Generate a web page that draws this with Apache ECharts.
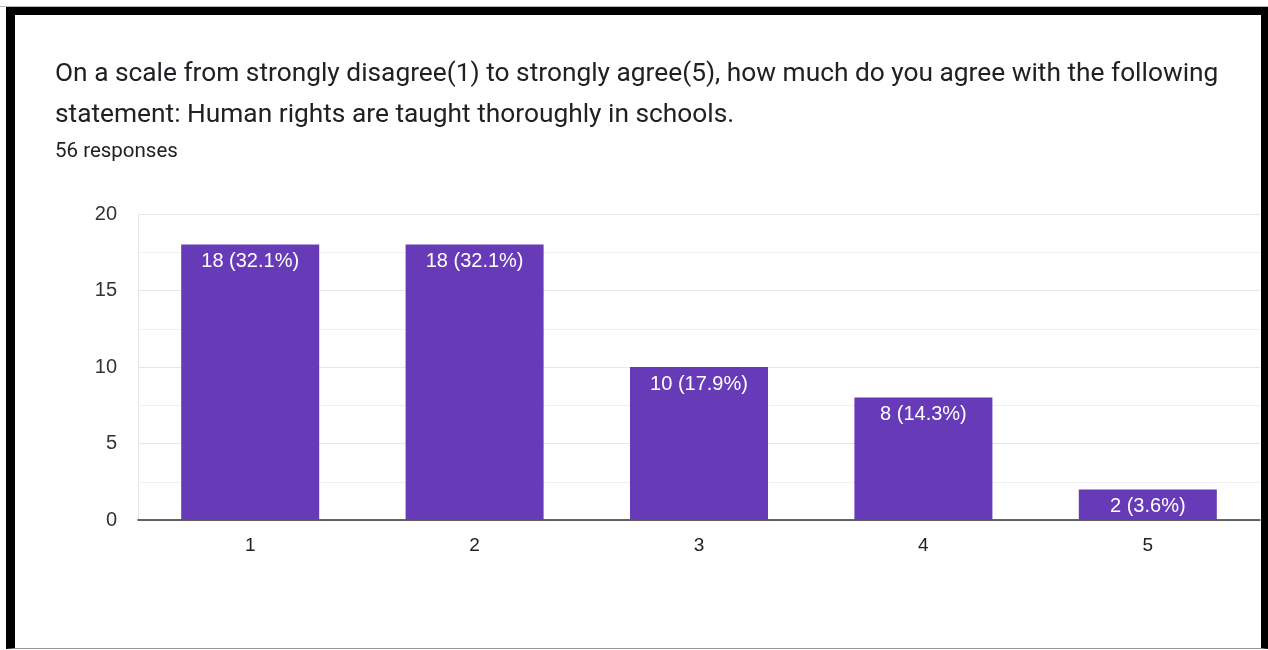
<!DOCTYPE html>
<html>
<head>
<meta charset="utf-8">
<script src="https://cdn.jsdelivr.net/npm/echarts@6/dist/echarts.min.js"></script>
<style>
html,body{margin:0;padding:0;background:#fff;}
#chart{position:absolute;left:0;top:0;width:1268px;height:650px;}
#frame{position:absolute;left:6px;top:7px;width:1262px;height:642px;box-sizing:border-box;
border-left:9px solid #000;border-top:8px solid #000;border-right:7px solid #000;border-bottom:1px solid #999;pointer-events:none;}
#topline{position:absolute;left:0;top:6px;width:1268px;height:1px;background:#bbb;}
</style>
</head>
<body>
<div id="chart"></div>
<div id="topline"></div>
<div id="frame"></div>
<script>
const titleLines = [
  "On a scale from strongly disagree(1) to strongly agree(5), how much do you agree with the following",
  "statement: Human rights are taught thoroughly in schools."
];
const subtitle = "56 responses";
const categories = ["1", "2", "3", "4", "5"];
const counts = [18, 18, 10, 8, 2];
const percents = ["32.1%", "32.1%", "17.9%", "14.3%", "3.6%"];
const yTicks = [0, 5, 10, 15, 20];

const chart = echarts.init(document.getElementById('chart'), null, {renderer: 'canvas'});
const font = 'Roboto, "Noto Sans", Arial, sans-serif';
const axisFont = '"Liberation Sans", Arial, Helvetica, sans-serif';
chart.setOption({
  animation: false,
  title: [
    {
      text: titleLines.join('\n'),
      left: 50, top: 49,
      textStyle: {fontFamily: font, fontSize: 26.3, fontWeight: 'normal', color: '#202124', lineHeight: 41}
    },
    {
      text: subtitle,
      left: 50, top: 136,
      textStyle: {fontFamily: font, fontSize: 20.5, fontWeight: 'normal', color: '#202124'}
    }
  ],
  grid: {left: 138, right: 8, top: 214, bottom: 130, containLabel: false},
  xAxis: {
    type: 'category',
    data: categories,
    axisLine: {show: true, lineStyle: {color: '#333', width: 1.5}},
    axisTick: {show: false},
    axisLabel: {fontFamily: axisFont, fontSize: 19, color: '#222', margin: 16},
    splitLine: {show: false}
  },
  yAxis: {
    type: 'value',
    min: yTicks[0], max: yTicks[yTicks.length - 1], interval: 5,
    splitNumber: 2,
    axisLine: {show: true, lineStyle: {color: '#e6e6e6', width: 1}},
    axisTick: {show: false},
    axisLabel: {fontFamily: axisFont, fontSize: 20, color: '#333', margin: 21},
    splitLine: {show: true, lineStyle: {color: '#e6e6e6', width: 1}},
    minorTick: {show: false, splitNumber: 2},
    minorSplitLine: {show: true, lineStyle: {color: '#efefef', width: 1}}
  },
  series: [{
    type: 'bar',
    data: counts,
    barCategoryGap: '38.5%',
    itemStyle: {color: '#673ab7'},
    label: {
      show: true,
      position: 'insideTop',
      distance: 7,
      fontFamily: axisFont,
      fontSize: 20,
      color: '#fff',
      formatter: p => p.value + ' (' + percents[p.dataIndex] + ')'
    }
  }]
});
</script>
</body>
</html>
